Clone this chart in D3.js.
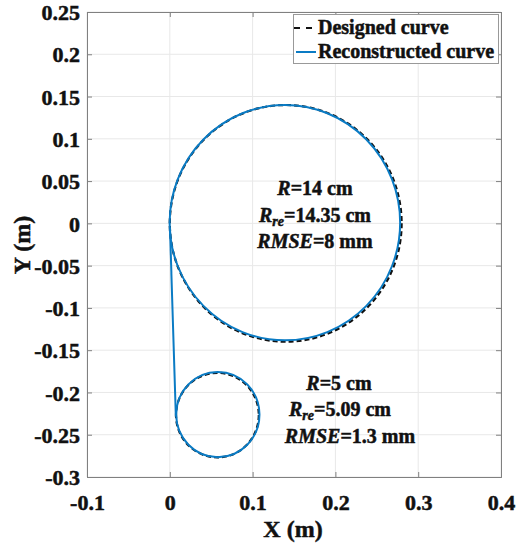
<!DOCTYPE html>
<html>
<head>
<meta charset="utf-8">
<script src="https://cdn.jsdelivr.net/npm/d3@7"></script>
<style>
  body { margin: 0; background: #fff; }
  text { font-family: "Liberation Serif", "Times New Roman", serif; font-weight: bold; }
  .heavy { stroke: #111; stroke-width: 0.5px; }
</style>
</head>
<body>
<div id="chart"></div>
<script>
// axis ticks
let xTicks = [-0.1, 0, 0.1, 0.2, 0.3, 0.4];
let yTicks = [0.25, 0.2, 0.15, 0.1, 0.05, 0, -0.05, -0.1, -0.15, -0.2, -0.25, -0.3];

// designed circles [cx, cy, r] in metres
let designedCircles = [[0.14, 0.0, 0.14], [0.0575, -0.2268, 0.05]];
// reconstructed curve: big loop, connecting segment, small loop
let reconCircles = [[0.1390, 0.0008, 0.1392], [0.0580, -0.2262, 0.0503]];
let reconSegment = [[0.0002, -0.005], [0.0073, -0.2285]];

let legendLabels = ["Designed curve", "Reconstructed curve"];
let bigNotes = [["R", "", "=14 cm"], ["R", "re", "=14.35 cm"], ["RMSE", "", "=8 mm"]];
let smallNotes = [["R", "", "=5 cm"], ["R", "re", "=5.09 cm"], ["RMSE", "", "=1.3 mm"]];

function draw() {
  let svgWidth = 517, svgHeight = 547;
  let margin = {top: 12, right: 16, bottom: 70, left: 87};
  let width = 501 - margin.left;
  let height = 477 - margin.top;

  let svg = d3.select("#chart").append("svg")
    .attr("width", svgWidth)
    .attr("height", svgHeight);

  let g = svg.append("g")
    .attr("transform", `translate(${margin.left}, ${margin.top})`);

  let x = d3.scaleLinear().domain([-0.1, 0.4]).range([0, width]);
  let y = d3.scaleLinear().domain([-0.3, 0.25]).range([height, 0]);
  let fmt = d => d3.format("~g")(d).replace("\u2212", "-");

  // grid
  g.append("g").selectAll("line").data(xTicks).enter().append("line")
    .attr("x1", d => x(d)).attr("x2", d => x(d))
    .attr("y1", 0).attr("y2", height)
    .attr("stroke", "#e8e8e8").attr("stroke-width", 1);
  g.append("g").selectAll("line").data(yTicks).enter().append("line")
    .attr("y1", d => y(d)).attr("y2", d => y(d))
    .attr("x1", 0).attr("x2", width)
    .attr("stroke", "#e8e8e8").attr("stroke-width", 1);

  // designed curve (dashed black)
  g.append("g").selectAll("ellipse").data(designedCircles).enter().append("ellipse")
    .attr("cx", d => x(d[0])).attr("cy", d => y(d[1]))
    .attr("rx", d => x(d[2]) - x(0)).attr("ry", d => y(0) - y(d[2]))
    .attr("fill", "none").attr("stroke", "#111")
    .attr("stroke-width", 2.2).attr("stroke-dasharray", "5,3");

  // reconstructed curve (blue)
  let recon = g.append("g").attr("stroke", "#0a7bc4").attr("fill", "none").attr("stroke-width", 2);
  recon.selectAll("ellipse").data(reconCircles).enter().append("ellipse")
    .attr("cx", d => x(d[0])).attr("cy", d => y(d[1]))
    .attr("rx", d => x(d[2]) - x(0)).attr("ry", d => y(0) - y(d[2]));
  recon.append("path")
    .attr("d", d3.line().x(d => x(d[0])).y(d => y(d[1]))(reconSegment));

  // axes box
  let xAxis = d3.axisBottom(x).tickValues(xTicks).tickSize(-5).tickFormat(fmt);
  let yAxis = d3.axisLeft(y).tickValues(yTicks).tickSize(-5).tickFormat(fmt);
  let xa = g.append("g").attr("transform", `translate(0, ${height})`).call(xAxis);
  let ya = g.append("g").call(yAxis);
  g.append("g").attr("transform", `translate(${width}, 0)`)
    .call(d3.axisRight(y).tickValues(yTicks).tickSize(-5).tickFormat(""));
  g.append("g")
    .call(d3.axisTop(x).tickValues(xTicks).tickSize(-5).tickFormat(""));
  g.selectAll(".domain").attr("stroke", "#808080");
  g.selectAll(".tick line").attr("stroke", "#808080");
  xa.selectAll("text").attr("font-size", "22px").attr("fill", "#111").attr("class", "heavy")
    .attr("y", 17).attr("dy", "0.71em");
  ya.selectAll("text").attr("font-size", "22px").attr("fill", "#111").attr("class", "heavy")
    .attr("x", -7).attr("dy", "0.35em");

  // axis titles
  svg.append("text").attr("x", 293).attr("y", 537).attr("class", "heavy")
    .attr("text-anchor", "middle").attr("font-size", "24px").attr("fill", "#111")
    .text("X (m)");
  svg.append("text").attr("transform", "translate(30, 245) rotate(-90)").attr("class", "heavy")
    .attr("text-anchor", "middle").attr("font-size", "24px").attr("fill", "#111")
    .text("Y (m)");

  // annotations
  function notes(rows, pos) {
    rows.forEach((r, i) => {
      let t = svg.append("text").attr("x", pos[i][0]).attr("y", pos[i][1]).attr("class", "heavy")
        .attr("text-anchor", "middle").attr("font-size", "20px").attr("fill", "#111");
      t.append("tspan").attr("font-style", "italic").text(r[0]);
      if (r[1]) t.append("tspan").attr("font-style", "italic").attr("font-size", "14px")
        .attr("dy", 4).text(r[1]);
      t.append("tspan").attr("dy", r[1] ? -4 : 0).text(r[2]);
    });
  }
  notes(bigNotes, [[315, 195], [315, 222], [315, 248]]);
  notes(smallNotes, [[339, 390], [340, 416], [350, 443]]);

  // legend
  let lg = svg.append("g");
  lg.append("rect").attr("x", 293.5).attr("y", 14.5).attr("width", 205).attr("height", 49)
    .attr("fill", "#fff").attr("stroke", "#999");
  lg.append("line").attr("x1", 294).attr("x2", 314).attr("y1", 28).attr("y2", 28)
    .attr("stroke", "#111").attr("stroke-width", 2.2).attr("stroke-dasharray", "6,6");
  lg.append("line").attr("x1", 296).attr("x2", 316).attr("y1", 52).attr("y2", 52)
    .attr("stroke", "#0a7bc4").attr("stroke-width", 2);
  lg.selectAll("text.lab").data(legendLabels).enter().append("text")
    .attr("class", "heavy")
    .attr("x", 318).attr("y", (d, i) => 34 + i * 24)
    .attr("font-size", "20px").attr("fill", "#111")
    .text(d => d);
}

draw();
</script>
</body>
</html>
